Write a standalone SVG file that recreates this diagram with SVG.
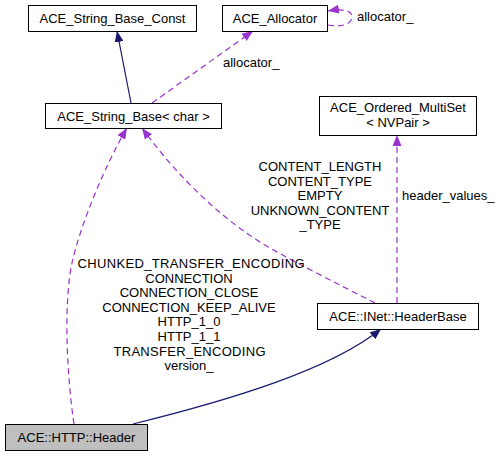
<svg xmlns="http://www.w3.org/2000/svg" width="498" height="456" viewBox="0 0 498 456">
<style>
.box{fill:#ffffff;stroke:#000000;stroke-width:1}
.cur{fill:#bfbfbf;stroke:#000000;stroke-width:1}
text{font-family:"Liberation Sans",Arial,sans-serif;font-size:13px;fill:#000000}
.c{text-anchor:middle}
.inh{fill:none;stroke:#191970;stroke-width:1.2}
.use{fill:none;stroke:#9a32cd;stroke-width:1.2;stroke-dasharray:6,4}
</style>
<defs>
<marker id="aNavy" viewBox="0 0 11 9" refX="11" refY="4.5" markerWidth="11" markerHeight="9" markerUnits="userSpaceOnUse" orient="auto">
<path d="M0,0 L11,4.5 L0,9 z" fill="#191970"/>
</marker>
<marker id="aPurple" viewBox="0 0 11 9" refX="11" refY="4.5" markerWidth="11" markerHeight="9" markerUnits="userSpaceOnUse" orient="auto">
<path d="M0,0 L11,4.5 L0,9 z" fill="#9a32cd"/>
</marker>
</defs>
<g id="edges">
<path class="inh" d="M131,103 L117,31" marker-end="url(#aNavy)"/>
<path class="use" d="M152,103 L253,31" marker-end="url(#aPurple)"/>
<path class="use" d="M328,25 C346,28 352,22 352,17 C352,11 345,8 328,11" marker-end="url(#aPurple)"/>
<path class="use" d="M397,303 L397,135" marker-end="url(#aPurple)"/>
<path class="use" d="M375,303 C340,285 300,265 270,248 C225,222 180,180 142,128" marker-end="url(#aPurple)"/>
<path class="use" d="M74,424 C66,370 64,300 72,263 C80,226 105,165 127,128" marker-end="url(#aPurple)"/>
<path class="inh" d="M133,424 C230,400 330,370 381,329" marker-end="url(#aNavy)"/>
<text x="223" y="67">allocator_</text>
<text x="357" y="21">allocator_</text>
<text x="402" y="200">header_values_</text>
<text class="c" x="320" y="171">CONTENT_LENGTH</text>
<text class="c" x="320" y="185.6">CONTENT_TYPE</text>
<text class="c" x="320" y="200.2">EMPTY</text>
<text class="c" x="320" y="214.8">UNKNOWN_CONTENT</text>
<text class="c" x="320" y="229.4">_TYPE</text>
<text class="c" x="191" y="268" textLength="227" lengthAdjust="spacing">CHUNKED_TRANSFER_ENCODING</text>
<text class="c" x="189" y="282.6">CONNECTION</text>
<text class="c" x="189" y="297.2">CONNECTION_CLOSE</text>
<text class="c" x="189" y="311.8">CONNECTION_KEEP_ALIVE</text>
<text class="c" x="189" y="326.4">HTTP_1_0</text>
<text class="c" x="189" y="341">HTTP_1_1</text>
<text class="c" x="189.5" y="355.6" textLength="152" lengthAdjust="spacing">TRANSFER_ENCODING</text>
<text class="c" x="189" y="370.2">version_</text>
</g>
<g id="node_string_base_const">
<rect class="box" x="28.5" y="5.5" width="168" height="26"/>
<text class="c" x="112.5" y="23">ACE_String_Base_Const</text>
</g>
<g id="node_allocator">
<rect class="box" x="222.5" y="5.5" width="105" height="26"/>
<text class="c" x="275" y="23">ACE_Allocator</text>
</g>
<g id="node_string_base_char">
<rect class="box" x="45.5" y="103.5" width="176" height="25"/>
<text class="c" x="133.5" y="120.5">ACE_String_Base&lt; char &gt;</text>
</g>
<g id="node_ordered_multiset">
<rect class="box" x="319.5" y="96.5" width="157" height="39"/>
<text class="c" x="398" y="111.5">ACE_Ordered_MultiSet</text>
<text class="c" x="398" y="127">&lt; NVPair &gt;</text>
</g>
<g id="node_headerbase">
<rect class="box" x="317.5" y="303.5" width="161" height="26"/>
<text class="c" x="398" y="321">ACE::INet::HeaderBase</text>
</g>
<g id="node_http_header">
<rect class="cur" x="5.5" y="424.5" width="142" height="26"/>
<text class="c" x="76.5" y="442">ACE::HTTP::Header</text>
</g>
</svg>
